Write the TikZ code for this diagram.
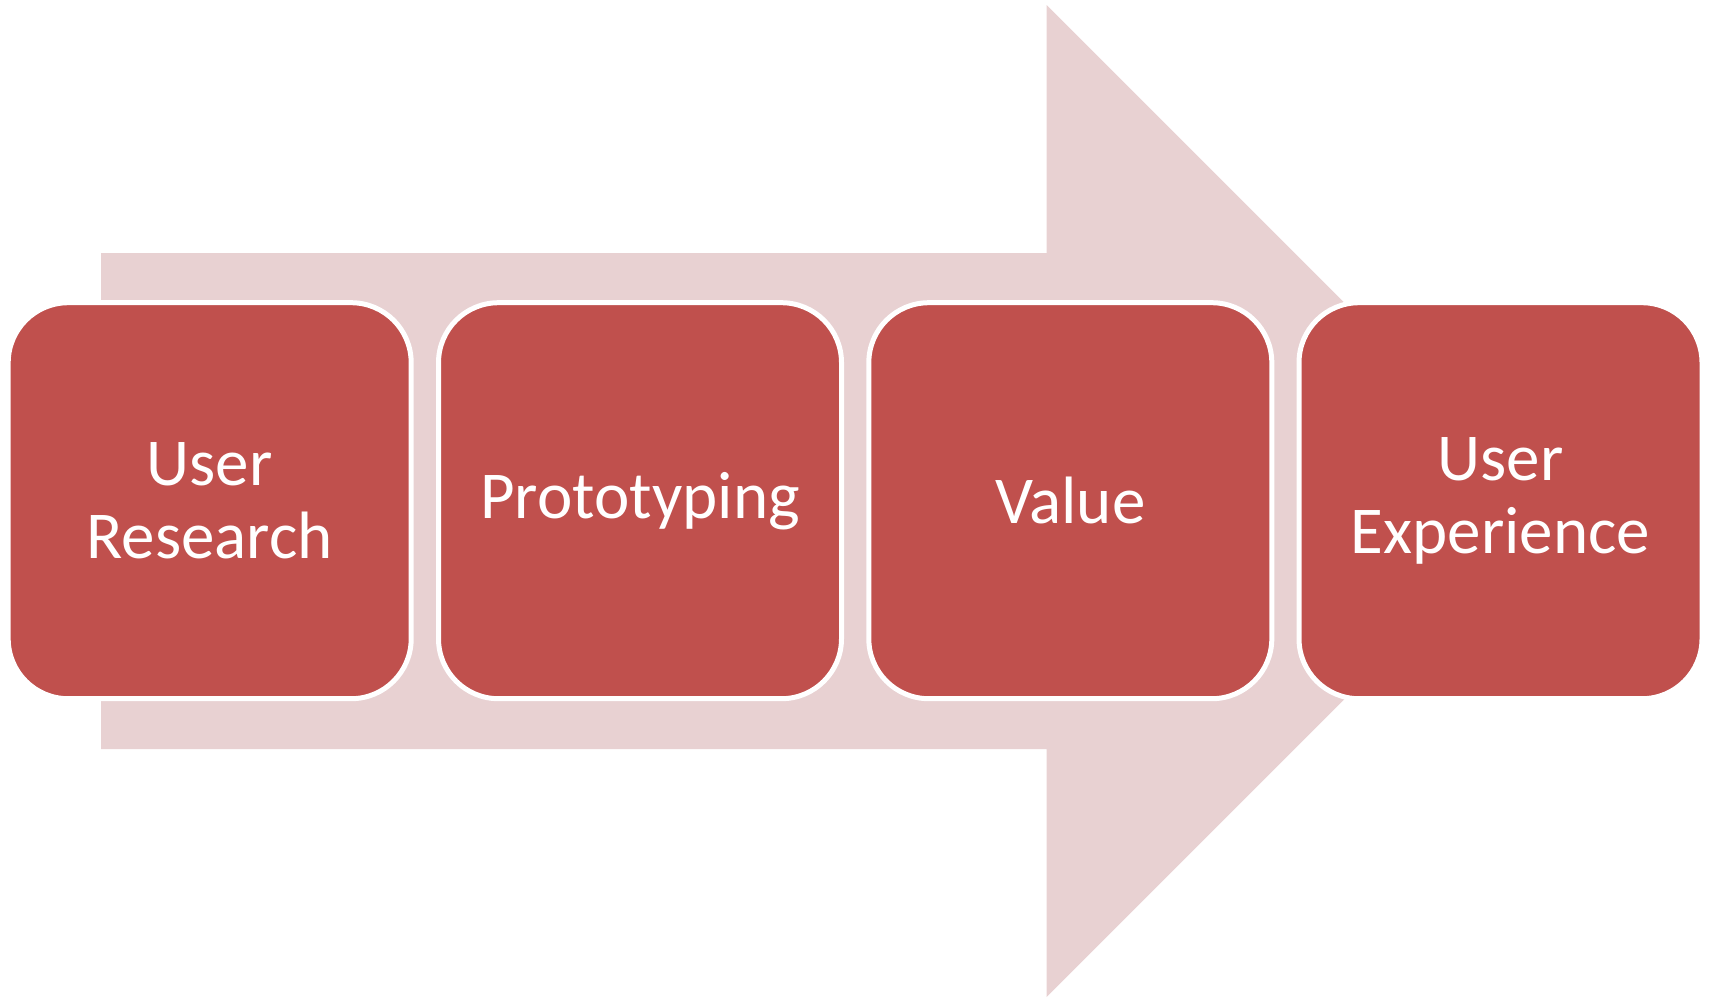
\documentclass[tikz,border=0pt]{standalone}
\usepackage{fontspec}
\setmainfont{Carlito}
\definecolor{boxred}{HTML}{C0504D}
\definecolor{arrowpink}{HTML}{E8D1D2}
\begin{document}
\begin{tikzpicture}[x=1pt,y=-1pt,
  stepbox/.style={rectangle, rounded corners=60pt, fill=boxred, draw=white,
    line width=5pt, minimum width=403pt, minimum height=396pt,
    text=white, align=center, inner sep=0pt,
    font=\fontsize{67}{73}\selectfont}]
\useasboundingbox (0,0) rectangle (1710,997);
\fill[arrowpink] (101,253) -- (1046.7,253) -- (1046.7,5) -- (1542.7,501)
  -- (1046.7,997) -- (1046.7,749) -- (101,749) -- cycle;
\node[stepbox] (ur) at (209.7,500.7) {User\\Research};
\node[stepbox] (pr) at (640,500.7) {Prototyping};
\node[stepbox] (va) at (1070.3,500.7) {Value};
\node[stepbox] (ux) at (1500.5,500.7) {User\\Experience};
\end{tikzpicture}
\end{document}
